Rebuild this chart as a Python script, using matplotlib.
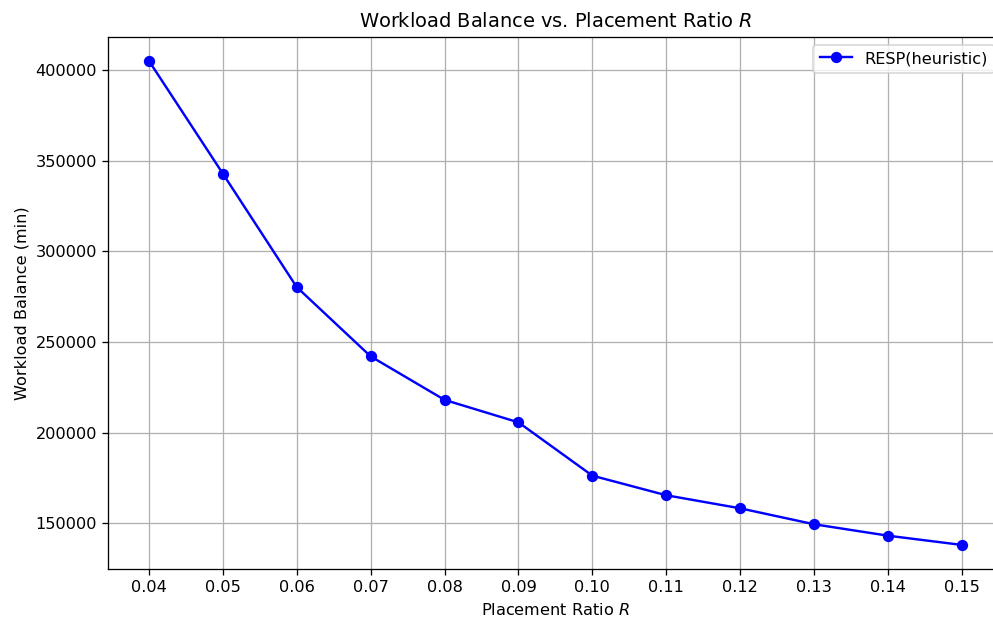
import matplotlib
matplotlib.use("Agg")
from matplotlib import pyplot as plt

ratios = [0.04, 0.05, 0.06, 0.07, 0.08, 0.09, 0.10, 0.11, 0.12, 0.13, 0.14, 0.15]
balance = [405000, 342800, 280200, 242000, 218000, 205600, 176200, 165400, 158200, 149400, 143100, 138000]
tick_labels = ["0.04", "0.05", "0.06", "0.07", "0.08", "0.09", "0.10", "0.11", "0.12", "0.13", "0.14", "0.15"]

# reference looks rendered at ~116 dpi
dpi = 116
fig, ax = plt.subplots(figsize=(993 / dpi, 620 / dpi), dpi=dpi)
fig.subplots_adjust(left=0.109, right=1.0097, top=0.941, bottom=0.082)

ax.plot(ratios, balance, marker="o", color="blue", label="RESP(heuristic)")
ax.set_xticks(ratios)
ax.set_xticklabels(tick_labels)
ax.set_xlabel("Placement Ratio $R$")
ax.set_ylabel("Workload Balance (min)")
ax.set_title("Workload Balance vs. Placement Ratio $R$")
ax.grid(True)
ax.legend(loc="upper right")

fig.savefig("out.png", dpi=dpi)
